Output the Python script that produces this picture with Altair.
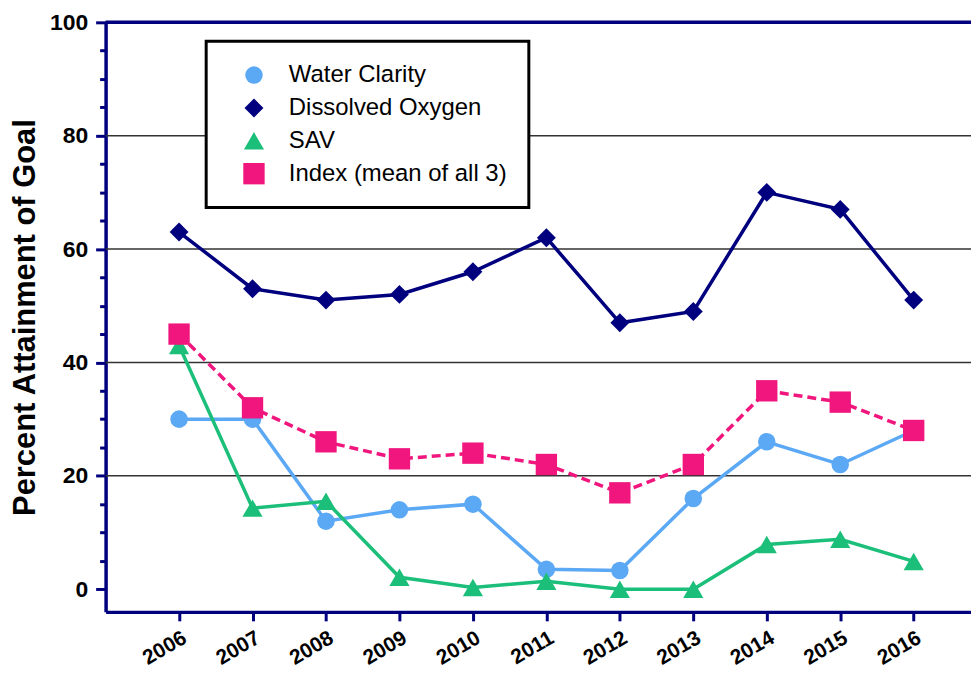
import altair as alt
import pandas as pd

years = [2006, 2007, 2008, 2009, 2010, 2011, 2012, 2013, 2014, 2015, 2016]
series_names = ["Water Clarity", "Dissolved Oxygen", "SAV", "Index (mean of all 3)"]
water_clarity = [30, 30, 12, 14, 15, 3.5, 3.3, 16, 26, 22, 28]
dissolved_oxygen = [63, 53, 51, 52, 56, 62, 47, 49, 70, 67, 51]
sav = [43, 14.3, 15.5, 2.1, 0.3, 1.4, 0, 0, 7.9, 8.8, 4.9]
index_mean = [45, 32, 26, 23, 24, 22, 17, 22, 35, 33, 28]
grid_values = [20, 40, 60, 80]
top_value = [100]

colors = ["#5BA8F5", "#00007F", "#1BBF7A", "#F0167D"]
shapes = ["circle", "diamond", "triangle-up", "square"]
sizes = [310, 460, 350, 330]
dashes = [None, None, None, [9, 5]]
NAVY = "#00007F"
FONT = "Liberation Sans"

rows = []
for name, vals in zip(series_names, [water_clarity, dissolved_oxygen, sav, index_mean]):
    for yr, v in zip(years, vals):
        rows.append({"year": yr, "value": v, "series": name})
df = pd.DataFrame(rows)

y_scale = alt.Scale(domain=[-4, 100], nice=False, zero=False)
x_scale = alt.Scale(domain=[2005, 2016.78], nice=False, zero=False)

x_enc = alt.X("year:Q", scale=x_scale,
              axis=alt.Axis(values=years, format="d", title=None, labelAngle=330,
                            labelAlign="right", labelBaseline="top", labelPadding=6,
                            labelFontSize=21, labelFontWeight="bold", labelFont=FONT,
                            labelColor="black", domainColor=NAVY, domainWidth=3.5,
                            tickColor=NAVY, tickWidth=3, tickSize=9, grid=False))
y_axis = alt.Axis(values=list(range(0, 101, 5)),
                  labelExpr="datum.value % 20 === 0 ? datum.label : ''",
                  title="Percent Attainment of Goal", titleFontSize=31,
                  titleFontWeight="bold", titleFont=FONT, titleColor="black",
                  titlePadding=8,
                  labelFontSize=23, labelFontWeight="bold", labelFont=FONT,
                  labelColor="black", labelPadding=8,
                  domainColor=NAVY, domainWidth=3.5, tickColor=NAVY, tickWidth=3,
                  tickSize={"condition": {"test": "datum.value % 20 === 0", "value": 10}, "value": 6},
                  grid=False)
y_enc = alt.Y("value:Q", scale=y_scale, axis=y_axis)

grid = alt.Chart(pd.DataFrame({"g": grid_values})).mark_rule(
    color="#333333", strokeWidth=1.5).encode(y=alt.Y("g:Q", scale=y_scale, axis=y_axis))

top = alt.Chart(pd.DataFrame({"g": top_value})).mark_rule(
    color=NAVY, strokeWidth=3.5).encode(y=alt.Y("g:Q", scale=y_scale, axis=y_axis))

line_layers = []
for name, c, d in zip(series_names, colors, dashes):
    kw = {"strokeWidth": 3.5, "color": c}
    if d is not None:
        kw["strokeDash"] = d
    line_layers.append(
        alt.Chart(df).transform_filter(alt.datum.series == name).mark_line(**kw).encode(x=x_enc, y=y_enc)
    )

leg = alt.Legend(title=None, orient="none", legendX=101, legendY=19)
points = alt.Chart(df).mark_point(filled=True, opacity=1).encode(
    x=x_enc, y=y_enc,
    color=alt.Color("series:N", scale=alt.Scale(domain=series_names, range=colors), legend=leg),
    shape=alt.Shape("series:N", scale=alt.Scale(domain=series_names, range=shapes), legend=leg),
    size=alt.Size("series:N", scale=alt.Scale(domain=series_names, range=sizes), legend=leg),
)

chart = alt.layer(grid, top, *line_layers, points).properties(
    width=869, height=592,
    autosize=alt.AutoSizeParams(type="none"),
    padding={"left": 98, "top": 13, "right": 0, "bottom": 60},
).configure_view(stroke=None).configure_legend(
    labelFont=FONT, labelFontSize=24, labelColor="black", labelLimit=500,
    symbolOffset=14, labelOffset=23, rowPadding=9,
    padding=22, strokeColor="black", strokeWidth=3, fillColor="white",
    symbolStrokeWidth=0,
)

chart.save("out.html", embed_options={"renderer": "svg", "actions": False})
